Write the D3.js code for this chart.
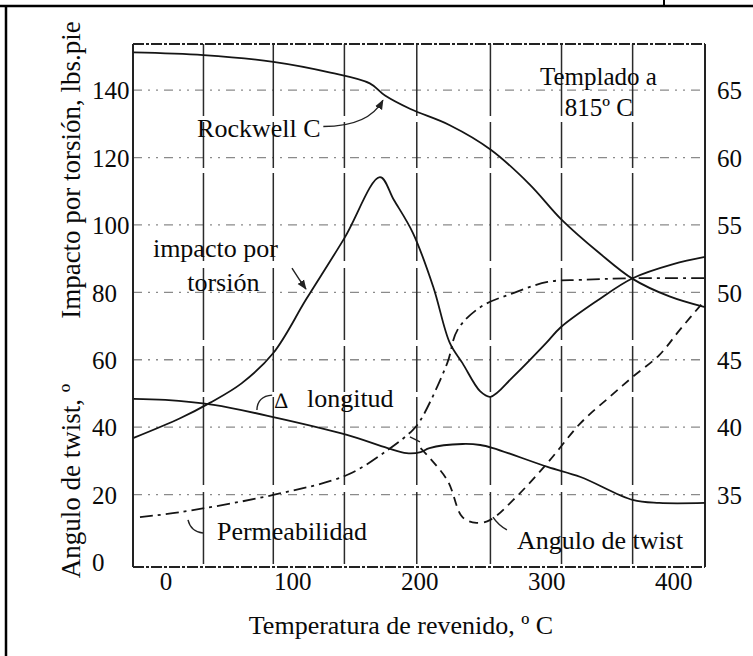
<!DOCTYPE html>
<html>
<head>
<meta charset="utf-8">
<style>
body { margin: 0; background: #fff; }
svg { display: block; }
text { font-family: "Liberation Serif", "Times New Roman", serif; fill: #0a0a0a; }
</style>
</head>
<body>
<svg width="753" height="656"></svg>
<script src="https://cdn.jsdelivr.net/npm/d3@7"></script>
<script>
// readings taken off the scanned figure (temperature in ºC)
var tempTicks = [0, 100, 200, 300, 400];
var leftTicks = [0, 20, 40, 60, 80, 100, 120, 140];
var rightTicks = [35, 40, 45, 50, 55, 60, 65];
var gridValues = [20, 40, 60, 80, 100, 120, 140];
var gridTemps = [30, 85, 141, 198, 256, 312, 368];

var rockwellTemp = [-25, 30, 85, 130, 161, 173, 193, 224, 256, 287, 312, 342, 368, 397, 425];
var rockwellHRC = [67.8, 67.6, 67.1, 66.3, 65.5, 64.6, 63.6, 62.4, 60.6, 58.0, 55.4, 52.9, 51.0, 49.7, 48.9];

var impactoTemp = [-25, 12, 35, 60, 85, 111, 141, 169, 180, 195, 211, 224, 234, 248, 256, 274, 300, 311, 340, 368, 400, 425];
var impacto = [36.8, 42.7, 47.2, 53, 62, 78, 96.1, 114.2, 107.4, 97.6, 81.6, 65, 59, 50.6, 49, 55, 65, 69.5, 77.5, 84.2, 88.4, 90.5];

var longitudTemp = [-25, 0, 38, 85, 143, 175, 190, 201, 208, 234, 248, 258, 301, 327, 368, 389, 425];
var longitud = [48.4, 48.1, 46.6, 43.0, 37.7, 33.8, 32.3, 32.6, 33.8, 35.0, 34.7, 33.8, 28.2, 25.2, 18.4, 17.5, 17.5];

var permTemp = [-20, 12, 85, 143, 175, 195, 201, 222, 230, 248, 274, 301, 327, 368, 425];
var permeabilidad = [13.3, 14.8, 19.9, 25.8, 33.2, 39.2, 42.1, 59, 68.8, 75.6, 79.8, 83.1, 83.7, 84.2, 84.2];

var twistTemp = [201, 222, 234, 245, 256, 274, 301, 327, 350, 368, 389, 405, 425];
var twist = [33.8, 24.3, 13.3, 11.6, 12.5, 18.4, 29.4, 41.2, 49.0, 54.9, 61.4, 68.8, 77.7];

var svg = d3.select("svg"),
    margin = {top: 44, right: 48, bottom: 89, left: 133},
    width = svg.attr("width") - margin.left - margin.right,
    height = svg.attr("height") - margin.top - margin.bottom;

// table cell lines around the figure
svg.append("line").attr("x1", 0).attr("x2", 753).attr("y1", 6).attr("y2", 6)
    .attr("stroke", "#000").attr("stroke-width", 2.5);
svg.append("line").attr("x1", 6).attr("x2", 6).attr("y1", 6).attr("y2", 656)
    .attr("stroke", "#000").attr("stroke-width", 2.5);
svg.append("line").attr("x1", 664).attr("x2", 664).attr("y1", 0).attr("y2", 6)
    .attr("stroke", "#000").attr("stroke-width", 2);

var g = svg.append("g").attr("transform", "translate(" + margin.left + "," + margin.top + ")");

var x = d3.scaleLinear().domain([-25.5, 425]).range([0, width]),
    y = d3.scaleLinear().domain([-1.5, 153.7]).range([height, 0]),
    yR = d3.scaleLinear().domain([29.625, 68.425]).range([height, 0]);

var defs = svg.append("defs");
defs.append("marker")
    .attr("id", "head")
    .attr("viewBox", "0 0 10 10")
    .attr("refX", 9).attr("refY", 5)
    .attr("markerWidth", 7).attr("markerHeight", 7)
    .attr("orient", "auto")
  .append("path")
    .attr("d", "M0,1 L10,5 L0,9 z")
    .attr("fill", "#222");

// grid
g.selectAll(".hgrid")
  .data(gridValues)
  .enter().append("line")
    .attr("class", "hgrid")
    .attr("x1", 0).attr("x2", width)
    .attr("y1", function(d) { return y(d); })
    .attr("y2", function(d) { return y(d); })
    .attr("stroke", "#8a8a8a")
    .attr("stroke-width", 1.3)
    .attr("stroke-dasharray", "9,6,2,6,2,6");

g.selectAll(".vgrid")
  .data(gridTemps)
  .enter().append("line")
    .attr("class", "vgrid")
    .attr("x1", function(d) { return x(d); })
    .attr("x2", function(d) { return x(d); })
    .attr("y1", 0).attr("y2", height)
    .attr("stroke", "#2a2a2a")
    .attr("stroke-width", 1.5)
    .attr("stroke-dasharray", "72,6,46,5,88,7");

// frame
g.append("line").attr("x1", 0).attr("x2", 0).attr("y1", 0).attr("y2", height)
    .attr("stroke", "#222").attr("stroke-width", 2);
g.append("line").attr("x1", width).attr("x2", width).attr("y1", 0).attr("y2", height)
    .attr("stroke", "#222").attr("stroke-width", 2);
g.append("line").attr("x1", 0).attr("x2", width).attr("y1", 0).attr("y2", 0)
    .attr("stroke", "#222").attr("stroke-width", 2).attr("stroke-dasharray", "11,2,3,2");
g.append("line").attr("x1", 0).attr("x2", width).attr("y1", height).attr("y2", height)
    .attr("stroke", "#222").attr("stroke-width", 2).attr("stroke-dasharray", "11,2,3,2");

// axes
var ax = g.append("g")
    .attr("transform", "translate(0," + height + ")")
    .call(d3.axisBottom(x).tickValues(tempTicks).tickSize(0).tickFormat(d3.format("d")));
ax.select(".domain").remove();
ax.selectAll("text").attr("y", 23).attr("dy", null)
    .style("font-size", "25px").style("font-family", "Liberation Serif");

var ayl = g.append("g")
    .call(d3.axisLeft(y).tickValues(leftTicks).tickSize(0));
ayl.select(".domain").remove();
ayl.selectAll("text").attr("x", -41).attr("text-anchor", "start").attr("dy", "0.35em")
    .style("font-size", "25px").style("font-family", "Liberation Serif");

var ayr = g.append("g")
    .attr("transform", "translate(" + width + ",0)")
    .call(d3.axisRight(yR).tickValues(rightTicks).tickSize(0));
ayr.select(".domain").remove();
ayr.selectAll("text").attr("x", 12).attr("dy", "0.35em")
    .style("font-size", "25px").style("font-family", "Liberation Serif");

// axis titles
svg.append("text")
    .attr("transform", "translate(80,170) rotate(-90)")
    .attr("text-anchor", "middle")
    .style("font-size", "27px")
    .text("Impacto por torsión, lbs.pie");
svg.append("text")
    .attr("transform", "translate(80,481) rotate(-90)")
    .attr("text-anchor", "middle")
    .style("font-size", "27px")
    .text("Angulo de twist, º");
svg.append("text")
    .attr("x", 401).attr("y", 634)
    .attr("text-anchor", "middle")
    .style("font-size", "26px")
    .text("Temperatura de revenido, º C");

// curves
function zip(ts, vs) {
  return ts.map(function(t, i) { return {t: t, v: vs[i]}; });
}

var lineL = d3.line()
    .curve(d3.curveCatmullRom.alpha(0.5))
    .x(function(d) { return x(d.t); })
    .y(function(d) { return y(d.v); });
var lineR = d3.line()
    .curve(d3.curveCatmullRom.alpha(0.5))
    .x(function(d) { return x(d.t); })
    .y(function(d) { return yR(d.v); });

var series = [
  {id: "rockwell", values: zip(rockwellTemp, rockwellHRC), line: lineR, dash: null},
  {id: "impacto", values: zip(impactoTemp, impacto), line: lineL, dash: null},
  {id: "longitud", values: zip(longitudTemp, longitud), line: lineL, dash: null},
  {id: "permeabilidad", values: zip(permTemp, permeabilidad), line: lineL, dash: "13,5,3,5"},
  {id: "twist", values: zip(twistTemp, twist), line: lineL, dash: "9,6"}
];

g.selectAll(".curve")
  .data(series)
  .enter().append("path")
    .attr("class", "curve")
    .attr("d", function(d) { return d.line(d.values); })
    .attr("fill", "none")
    .attr("stroke", "#151515")
    .attr("stroke-width", 1.8)
    .attr("stroke-dasharray", function(d) { return d.dash; });

// labels on the plot (placed in data units)
function label(t, v, s, size) {
  g.append("text")
      .attr("x", x(t)).attr("y", y(v))
      .style("font-size", (size || 26) + "px")
      .text(s);
}
label(25, 126.1, "Rockwell C");
label(295, 141.5, "Templado a", 25);
label(314.6, 132.3, "815º C", 25);
label(-9.8, 90.5, "impacto por");
label(17.2, 80.4, "torsión");
label(86, 45.8, "∆", 22);
label(111.5, 46.0, "longitud");
label(40.6, 6.5, "Permeabilidad");
label(277, 3.9, "Angulo de twist");

function leader(p0, c, p1, arrow) {
  var p = d3.path();
  p.moveTo(x(p0[0]), y(p0[1]));
  p.quadraticCurveTo(x(c[0]), y(c[1]), x(p1[0]), y(p1[1]));
  var el = g.append("path")
      .attr("d", p.toString())
      .attr("fill", "none")
      .attr("stroke", "#222")
      .attr("stroke-width", 1.4);
  if (arrow) el.attr("marker-end", "url(#head)");
}
leader([124.4, 129.2], [160, 129.2], [171.3, 137.0], true);
leader([99.7, 87.2], [105, 84], [110.7, 81.0], true);
leader([84.1, 49.5], [72.5, 49.2], [72.1, 45.1], false);
leader([29.6, 8.6], [20, 9], [17.8, 12.5], false);
leader([269, 9.5], [262, 11], [258, 13.3], false);
leader([200.5, 35.6], [196, 36.5], [192.6, 37.1], false);
</script>
</body>
</html>
